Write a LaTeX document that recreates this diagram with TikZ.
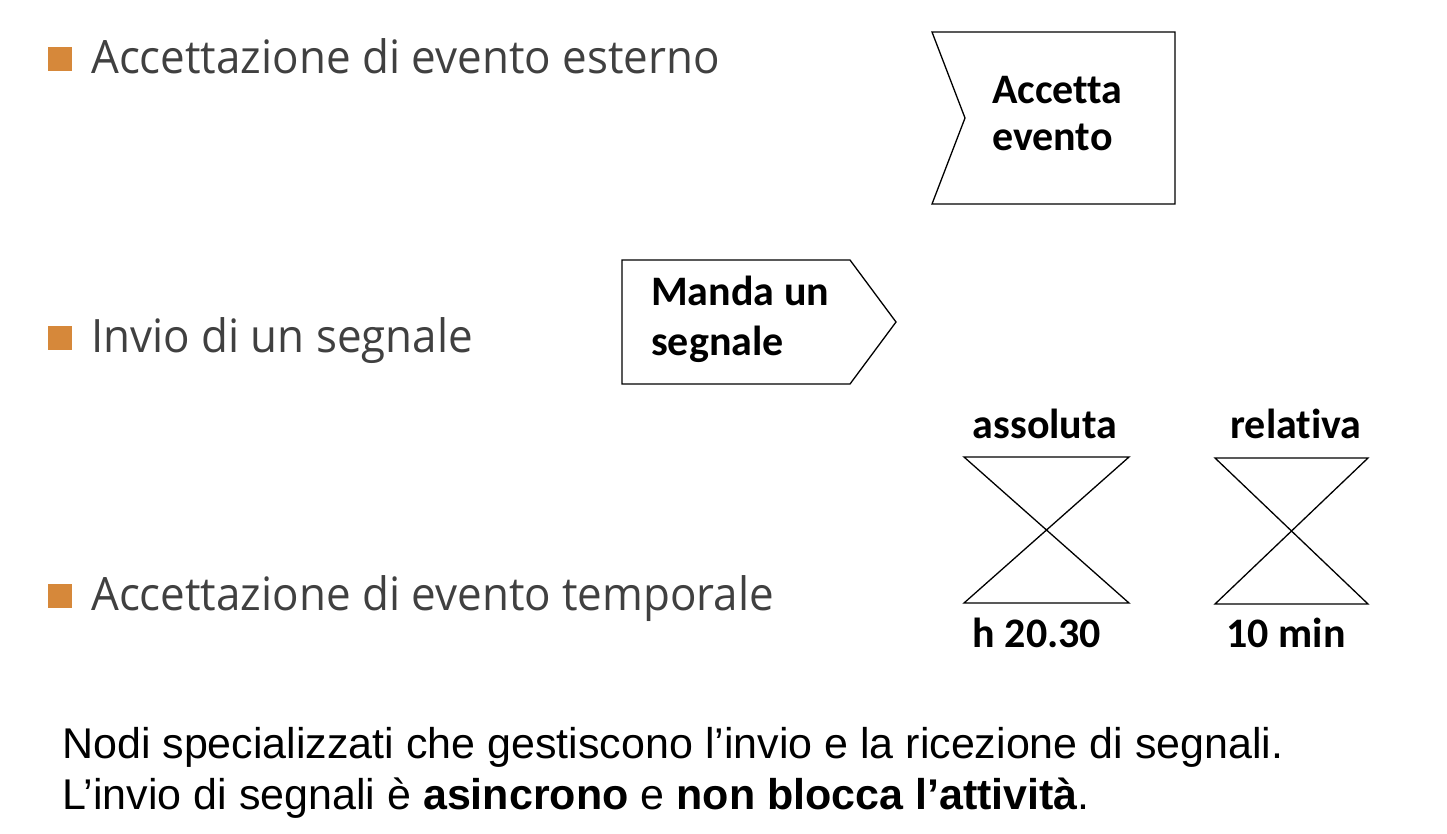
\documentclass[tikz,border=0pt]{standalone}
\usepackage{fontspec}
\setmainfont{Liberation Sans}
\newfontfamily\bulletfont[FakeStretch=0.955]{Open Sans}
\newfontfamily\boxfont[Ligatures=NoCommon]{Carlito}
\newfontfamily\bodyfont{Liberation Sans}
\definecolor{bulletorange}{RGB}{214,136,58}
\definecolor{textgray}{RGB}{64,64,64}
\begin{document}
\begin{tikzpicture}[x=1pt,y=-1pt,
  bullettext/.style={anchor=base west,inner sep=0pt,text=textgray,font=\bulletfont\fontsize{46}{50}\selectfont},
  bulletsq/.style={fill=bulletorange,draw=none},
  boxtext/.style={anchor=base west,inner sep=0pt,align=left,font=\boxfont\bfseries\fontsize{42}{50}\selectfont},
  lbl/.style={anchor=base,inner sep=0pt,font=\boxfont\bfseries\fontsize{42}{50}\selectfont},
  bodytext/.style={anchor=base west,inner sep=0pt,font=\bodyfont\fontsize{43}{50}\selectfont},
  shapeline/.style={draw=black,line width=1.3pt,line join=miter}]
\useasboundingbox (0,0) rectangle (1447,833);
% bullets
\fill[bulletsq] (48,47) rectangle (72,71);
\node[bullettext] (b1) at (91,73) {Accettazione di evento esterno};
\fill[bulletsq] (48,326) rectangle (72,350);
\node[bullettext] (b2) at (91,352) {Invio di un segnale};
\fill[bulletsq] (48,584) rectangle (72,608);
\node[bullettext] (b3) at (91,610) {Accettazione di evento temporale};
% accept event
\draw[shapeline] (932,32) -- (1175,32) -- (1175,204) -- (932,204) -- (965,118) -- cycle;
\node[boxtext] (acc1) at (992,103) {Accetta};
\node[boxtext] (acc2) at (992,150) {evento};
% send signal
\draw[shapeline] (622,260) -- (850,260) -- (896,322) -- (850,384) -- (622,384) -- cycle;
\node[boxtext] (snd1) at (651,305) {Manda un};
\node[boxtext] (snd2) at (651,355) {segnale};
% hourglasses
\draw[shapeline] (964,457) -- (1129,457) -- (964,603) -- (1129,603) -- cycle;
\draw[shapeline] (1215,458) -- (1368,458) -- (1215,604) -- (1368,604) -- cycle;
\node[lbl] (ass) at (1045,438) {assoluta};
\node[lbl] (rel) at (1296,438) {relativa};
\node[lbl] (h) at (1037,647) {h 20.30};
\node[lbl] (min) at (1286,647) {10 min};
% bottom text
\node[bodytext] (t1) at (62,758) {Nodi specializzati che gestiscono l’invio e la ricezione di segnali.};
\node[bodytext] (t2) at (62,809) {L’invio di segnali è \textbf{asincrono} e \textbf{non blocca l’attività}.};
\end{tikzpicture}
\end{document}
